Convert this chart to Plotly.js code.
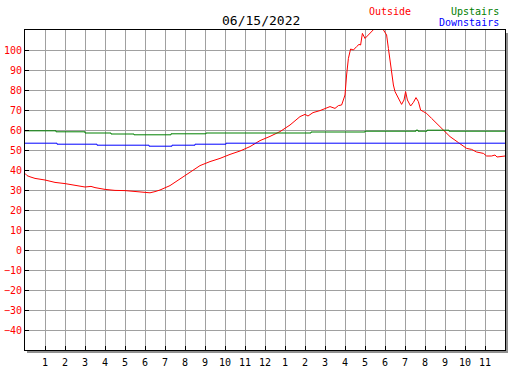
<!DOCTYPE html>
<html>
<head>
<meta charset="utf-8">
<script src="https://cdn.plot.ly/plotly-3.0.1.min.js"></script>
<style>html,body{margin:0;padding:0;background:#fff;}#chart{width:527px;height:370px;}</style>
</head>
<body>
<div id="chart"></div>
<script>
// ---- data ----
const chartTitle = "06/15/2022";
const seriesNames = ["Outside", "Upstairs", "Downstairs"];
const seriesColors = ["#ff0000", "#008000", "#0000ff"];

const outsideHours = [0,0.1,0.25,0.5,1.0,1.5,2.0,2.5,3.0,3.3,3.5,4.0,4.5,5.0,5.5,6.0,6.25,6.5,6.75,7.25,7.75,8.25,8.75,9.25,9.75,10.25,10.75,11.25,11.75,12.25,12.75,13.25,13.75,14.0,14.15,14.4,14.75,15.25,15.5,15.67,15.83,15.9,16.0,16.08,16.17,16.28,16.42,16.58,16.7,16.78,16.87,17.0,17.17,17.33,17.47,17.6,17.8,17.92,18.08,18.17,18.25,18.33,18.42,18.5,18.67,18.83,18.95,19.03,19.12,19.28,19.42,19.55,19.67,19.78,19.92,20.08,20.33,20.58,20.92,21.25,21.67,22.08,22.33,22.58,22.92,23.08,23.33,23.5,23.6,23.92,24.0];
const outsideTemps = [38.3,37.2,36.6,35.8,35.0,33.8,33.2,32.2,31.5,31.8,31.2,30.3,29.8,29.7,29.3,29.0,28.6,29.2,30.0,32.2,35.5,38.8,42.2,44.2,45.8,47.8,49.5,51.7,54.7,56.8,59.2,62.5,66.7,67.8,67.0,68.7,69.7,71.7,70.8,72.2,72.5,74.5,77.5,87.5,95.8,100.5,100.0,101.7,102.8,102.5,108.3,105.8,107.5,108.8,110.5,112.0,112.0,110.0,107.5,100.8,94.2,87.5,82.5,79.2,75.8,72.8,75.0,79.2,75.0,72.0,73.8,76.2,74.2,70.0,69.2,68.3,65.8,63.3,60.2,56.7,53.7,50.8,50.3,49.0,48.3,47.0,47.0,47.5,46.5,47.0,47.0];

const upstairsHours = [0,1.55,3.0,4.3,5.45,7.3,9.05,14.3,17.0,19.55,19.65,20.1,21.2,24];
const upstairsTemps = [59.6,59.1,58.5,58.0,57.6,58.1,58.5,59.0,59.4,59.9,59.4,59.9,59.4,59.4];

const downstairsHours = [0,1.6,3.6,6.2,7.35,8.5,10.05,24];
const downstairsTemps = [53.4,52.9,52.4,51.9,52.4,52.9,53.4,53.4];

const xTickVals = [1,2,3,4,5,6,7,8,9,10,11,12,13,14,15,16,17,18,19,20,21,22,23];
const xTickText = ["1","2","3","4","5","6","7","8","9","10","11","12","1","2","3","4","5","6","7","8","9","10","11"];
const yTickVals = [-40,-30,-20,-10,0,10,20,30,40,50,60,70,80,90,100];

// ---- chart ----
const mono = "DejaVu Sans Mono, monospace";
const traces = [
  {x: outsideHours, y: outsideTemps, name: seriesNames[0], mode: "lines",
   line: {color: seriesColors[0], width: 1}},
  {x: upstairsHours, y: upstairsTemps, name: seriesNames[1], mode: "lines",
   line: {color: seriesColors[1], width: 1, shape: "hv"}},
  {x: downstairsHours, y: downstairsTemps, name: seriesNames[2], mode: "lines",
   line: {color: seriesColors[2], width: 1, shape: "hv"}}
];

const px = 1/480, py = 1/320;
const yPix = v => (350 - v) / 320;   // container pixel row -> paper y
const layout = {
  width: 527, height: 370,
  margin: {l: 25, r: 22, t: 30, b: 20, pad: 0},
  paper_bgcolor: "#ffffff", plot_bgcolor: "#ffffff",
  showlegend: false,
  title: {text: chartTitle, font: {family: mono, size: 13, color: "#000"},
          xref: "paper", x: 0.492, xanchor: "center", yref: "container", y: 1 - 20/370, yanchor: "middle"},
  xaxis: {range: [0, 24], tickmode: "array", tickvals: xTickVals, ticktext: xTickText,
          showgrid: true, gridcolor: "#a0a0a0", gridwidth: 1, zeroline: false,
          showline: true, linecolor: "#000", linewidth: 1, mirror: true,
          ticks: "inside", ticklen: 4, tickcolor: "#000", tickwidth: 1, ticklabelstandoff: 3,
          tickfont: {family: mono, size: 10, color: "#000"}},
  yaxis: {range: [-50, 110], tickmode: "array", tickvals: yTickVals,
          showgrid: true, gridcolor: "#a0a0a0", gridwidth: 1, zeroline: false,
          showline: true, linecolor: "#000", linewidth: 1, mirror: true,
          ticks: "inside", ticklen: 4, tickcolor: "#000", tickwidth: 1,
          tickfont: {family: mono, size: 10, color: "#ff0000"}},
  shapes: [
    {type: "line", xref: "paper", yref: "paper", x0: 1 + 2*px, x1: 1 + 2*px, y0: -2*py, y1: 1 - 3*py,
     line: {color: "#909090", width: 2}},
    {type: "line", xref: "paper", yref: "paper", x0: 2*px, x1: 1 + 3*px, y0: -2*py, y1: -2*py,
     line: {color: "#909090", width: 2}}
  ],
  annotations: [
    {text: seriesNames[0], font: {family: mono, size: 10, color: seriesColors[0]},
     xref: "paper", yref: "paper", x: (390-25)/480, y: yPix(11), xanchor: "center", yanchor: "middle", showarrow: false},
    {text: seriesNames[1], font: {family: mono, size: 10, color: seriesColors[1]},
     xref: "paper", yref: "paper", x: (501-25)/480, y: yPix(11), xanchor: "right", yanchor: "middle", showarrow: false},
    {text: seriesNames[2], font: {family: mono, size: 10, color: seriesColors[2]},
     xref: "paper", yref: "paper", x: (501-25)/480, y: yPix(23), xanchor: "right", yanchor: "middle", showarrow: false}
  ]
};

Plotly.newPlot("chart", traces, layout, {displayModeBar: false, staticPlot: true});
</script>
</body>
</html>
